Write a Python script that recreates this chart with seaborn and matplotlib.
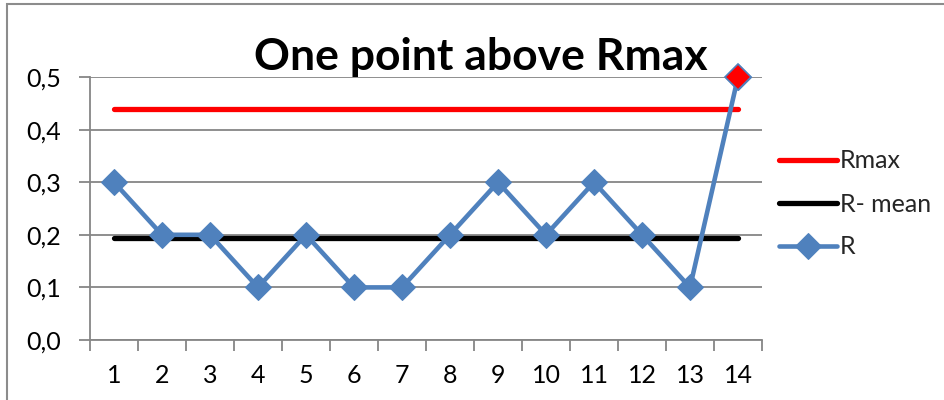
import matplotlib
matplotlib.use("Agg")
import matplotlib.pyplot as plt
import seaborn as sns
import pandas as pd
from matplotlib.patches import Rectangle
from matplotlib.ticker import FixedLocator, FuncFormatter

samples = list(range(1, 15))
r_values = [0.3, 0.2, 0.2, 0.1, 0.2, 0.1, 0.1, 0.2, 0.3, 0.2, 0.3, 0.2, 0.1, 0.5]
rmax_values = [0.44] * 14
rmean_values = [0.193] * 14
y_ticks = [0.0, 0.1, 0.2, 0.3, 0.4, 0.5]
title = "One point above Rmax"

BLUE = "#4F81BD"
GRID = "#868686"

sns.set_theme(style="white")
plt.rcParams["font.family"] = ["Lato", "DejaVu Sans"]

fig = plt.figure(figsize=(9.44, 4.0), dpi=100)
ax = fig.add_axes([90 / 944, 1 - 340 / 400, (762 - 90) / 944, (340 - 77) / 400])

df = pd.DataFrame({"x": samples, "R": r_values, "Rmax": rmax_values, "Rmean": rmean_values})

sns.lineplot(data=df, x="x", y="Rmax", ax=ax, color="#FF0000", linewidth=3.8,
             solid_capstyle="round", label="Rmax")
sns.lineplot(data=df, x="x", y="Rmean", ax=ax, color="black", linewidth=3.8,
             solid_capstyle="round", label="R- mean")
sns.lineplot(data=df, x="x", y="R", ax=ax, color=BLUE, linewidth=3.3,
             marker="D", markersize=13, markeredgecolor=BLUE, label="R")
for ln in ax.lines:
    ln.set_clip_on(False)
ax.plot([samples[-1]], [r_values[-1]], linestyle="none", marker="D", markersize=13,
        markerfacecolor="#FF0000", markeredgecolor=BLUE, markeredgewidth=1.2, zorder=5,
        clip_on=False)

ax.set_xlim(0.5, 14.5)
ax.set_ylim(0, 0.5)
ax.set_xlabel("")
ax.set_ylabel("")

ax.set_yticks(y_ticks)
ax.yaxis.set_major_formatter(FuncFormatter(lambda v, p: f"{v:.1f}".replace(".", ",")))
ax.yaxis.grid(True, color=GRID, linewidth=1.3)
ax.set_axisbelow(True)

ax.set_xticks(samples)
ax.set_xticklabels([str(s) for s in samples])
ax.xaxis.set_minor_locator(FixedLocator([s - 0.5 for s in samples] + [14.5]))
ax.tick_params(axis="x", which="major", length=0, pad=17, labelsize=18, colors="black")
ax.tick_params(axis="x", which="minor", length=8, width=1.3, color=GRID, direction="out", bottom=True)
ax.tick_params(axis="y", which="major", length=8, width=1.3, color=GRID, direction="out",
               left=True, pad=13, labelsize=18, labelcolor="black")

for side in ["top", "right"]:
    ax.spines[side].set_visible(False)
for side in ["left", "bottom"]:
    ax.spines[side].set_color(GRID)
    ax.spines[side].set_linewidth(1.3)

ax.legend_.remove()
handles, labels = ax.get_legend_handles_labels()
fig.legend(handles, labels, loc="center left", bbox_to_anchor=(779 / 944, 1 - 204 / 400),
           frameon=False, fontsize=18, handlelength=2.3, handletextpad=0.15,
           labelspacing=0.8, borderpad=0, borderaxespad=0, numpoints=1)

fig.text(481 / 944, 1 - 70 / 400, title, ha="center", va="baseline",
         fontsize=32, fontweight="bold", color="black")

fig.patches.append(Rectangle((7 / 944, -0.5), 2.0, 0.5 + 1 - 4 / 400, transform=fig.transFigure,
                             fill=False, edgecolor="#8c8c8c", linewidth=1.5))

fig.savefig("out.png", dpi=100)
